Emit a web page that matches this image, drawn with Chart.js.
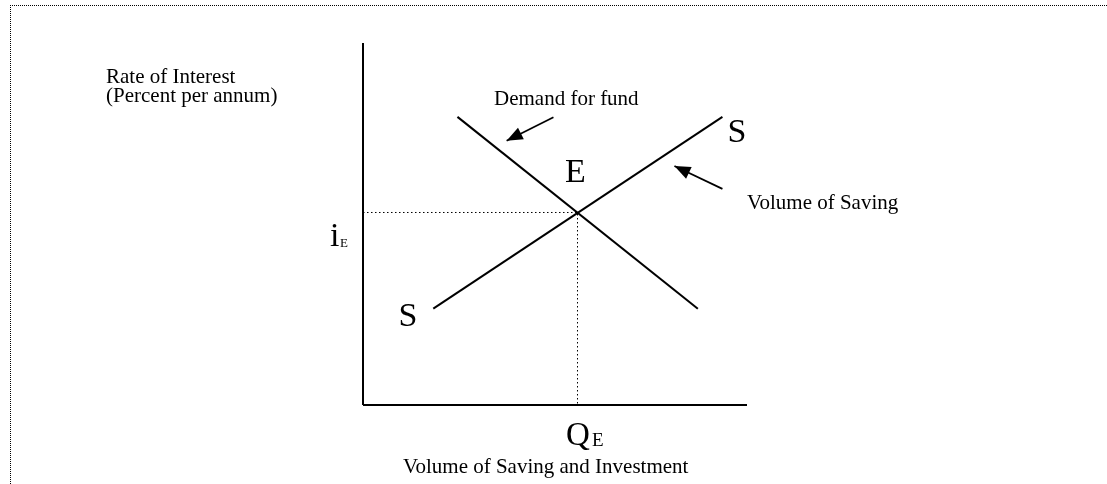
<!DOCTYPE html>
<html><head><meta charset="utf-8">
<script src="https://cdn.jsdelivr.net/npm/chart.js@4.4.1/dist/chart.umd.min.js"></script>
<style>
html,body{margin:0;padding:0;background:#fff;}
#wrap{position:relative;width:1107px;height:484px;overflow:hidden;background:#fff;}
#frame{position:absolute;left:10px;top:5px;width:1300px;height:700px;border-left:1px dotted #000;border-top:1px dotted #000;}
canvas{position:absolute;left:0;top:0;}
</style></head><body>
<div id="wrap"><div id="frame"></div><canvas id="c" width="1107" height="484"></canvas></div>
<script>
// ---- data (axis units 0..10) ----
const axisX = [0, 10];
const axisY = [0, 10];
const demandX = [2.46, 8.72];
const demandY = [7.96, 2.66];
const supplyX = [1.83, 9.36];
const supplyY = [2.66, 7.96];
const equilibriumQ = 5.586;
const equilibriumI = 5.318;
const arrowDemandX = [4.96, 3.74];   // tail, tip
const arrowDemandY = [7.95, 7.30];
const arrowSavingX = [9.36, 8.11];
const arrowSavingY = [5.97, 6.60];

// ---- text ----
const yTitle = ["Rate of Interest", "(Percent per annum)"];
const xTitle = ["Volume of Saving and Investment"];
const curveNames = ["Demand for fund", "Volume of Saving"];
const bigLetters = ["E", "S", "S", "i", "Q"];
const subscripts = ["E", "E"];

function pts(xs, ys){ return xs.map((x,i)=>({x:x, y:ys[i]})); }

const SERIF = '"Liberation Serif","Times New Roman",serif';

const textLayout = [
  {t: yTitle[0], x:106, y:82.5, s:21},
  {t: yTitle[1], x:106, y:101.5, s:21},
  {t: xTitle[0], x:403, y:472.5, s:21},
  {t: curveNames[0], x:494, y:105, s:21},
  {t: curveNames[1], x:747, y:209, s:21},
  {t: bigLetters[0], x:565, y:182, s:34},
  {t: bigLetters[1], x:727.5, y:142, s:34},
  {t: bigLetters[2], x:398.5, y:326, s:34},
  {t: bigLetters[3], x:330, y:246, s:34},
  {t: subscripts[0], x:340, y:247, s:13},
  {t: bigLetters[4], x:566, y:445, s:33},
  {t: subscripts[1], x:592, y:445.5, s:19}
];

const decorPlugin = {
  id: 'decor',
  afterDatasetsDraw(chart){
    const ctx = chart.ctx, xs = chart.scales.x, ys = chart.scales.y;
    ctx.save();
    [[arrowDemandX, arrowDemandY],[arrowSavingX, arrowSavingY]].forEach(([ax, ay])=>{
      const x0 = xs.getPixelForValue(ax[0]), y0 = ys.getPixelForValue(ay[0]);
      const x1 = xs.getPixelForValue(ax[1]), y1 = ys.getPixelForValue(ay[1]);
      const a = Math.atan2(y1-y0, x1-x0);
      const L = 16, W = 6.5;
      const bx = x1 - L*Math.cos(a), by = y1 - L*Math.sin(a);
      ctx.beginPath();
      ctx.moveTo(x1, y1);
      ctx.lineTo(bx + W*Math.sin(a), by - W*Math.cos(a));
      ctx.lineTo(bx - W*Math.sin(a), by + W*Math.cos(a));
      ctx.closePath();
      ctx.fillStyle = '#000';
      ctx.fill();
    });
    ctx.fillStyle = '#000';
    ctx.textBaseline = 'alphabetic';
    ctx.textAlign = 'left';
    textLayout.forEach(o=>{
      ctx.font = o.s + 'px ' + SERIF;
      ctx.fillText(o.t, o.x, o.y);
    });
    ctx.restore();
  }
};

const lineDs = (data, w, dash) => ({
  data, showLine:true, borderColor:'#000', backgroundColor:'#000',
  borderWidth:w, borderDash: dash || [], pointRadius:0, pointHoverRadius:0,
  clip:false, tension:0, fill:false
});

new Chart(document.getElementById('c'), {
  type:'scatter',
  data:{ datasets:[
    lineDs(pts([axisX[0], axisX[0]], [axisY[1], axisY[0]]), 2),
    lineDs(pts([axisX[0], axisX[1]], [axisY[0], axisY[0]]), 2),
    lineDs(pts([axisX[0], equilibriumQ, equilibriumQ], [equilibriumI, equilibriumI, axisY[0]]), 1, [1.5,2.5]),
    lineDs(pts(demandX, demandY), 2),
    lineDs(pts(supplyX, supplyY), 2),
    lineDs(pts(arrowDemandX, arrowDemandY), 1.7),
    lineDs(pts(arrowSavingX, arrowSavingY), 1.7)
  ]},
  options:{
    responsive:false, animation:false, events:[],
    layout:{padding:{left:363, right:360, top:43, bottom:79}},
    plugins:{legend:{display:false}, tooltip:{enabled:false}, title:{display:false}},
    scales:{
      x:{type:'linear', min:axisX[0], max:axisX[1], display:false},
      y:{type:'linear', min:axisY[0], max:axisY[1], display:false}
    }
  },
  plugins:[decorPlugin]
});
</script>
</body></html>
